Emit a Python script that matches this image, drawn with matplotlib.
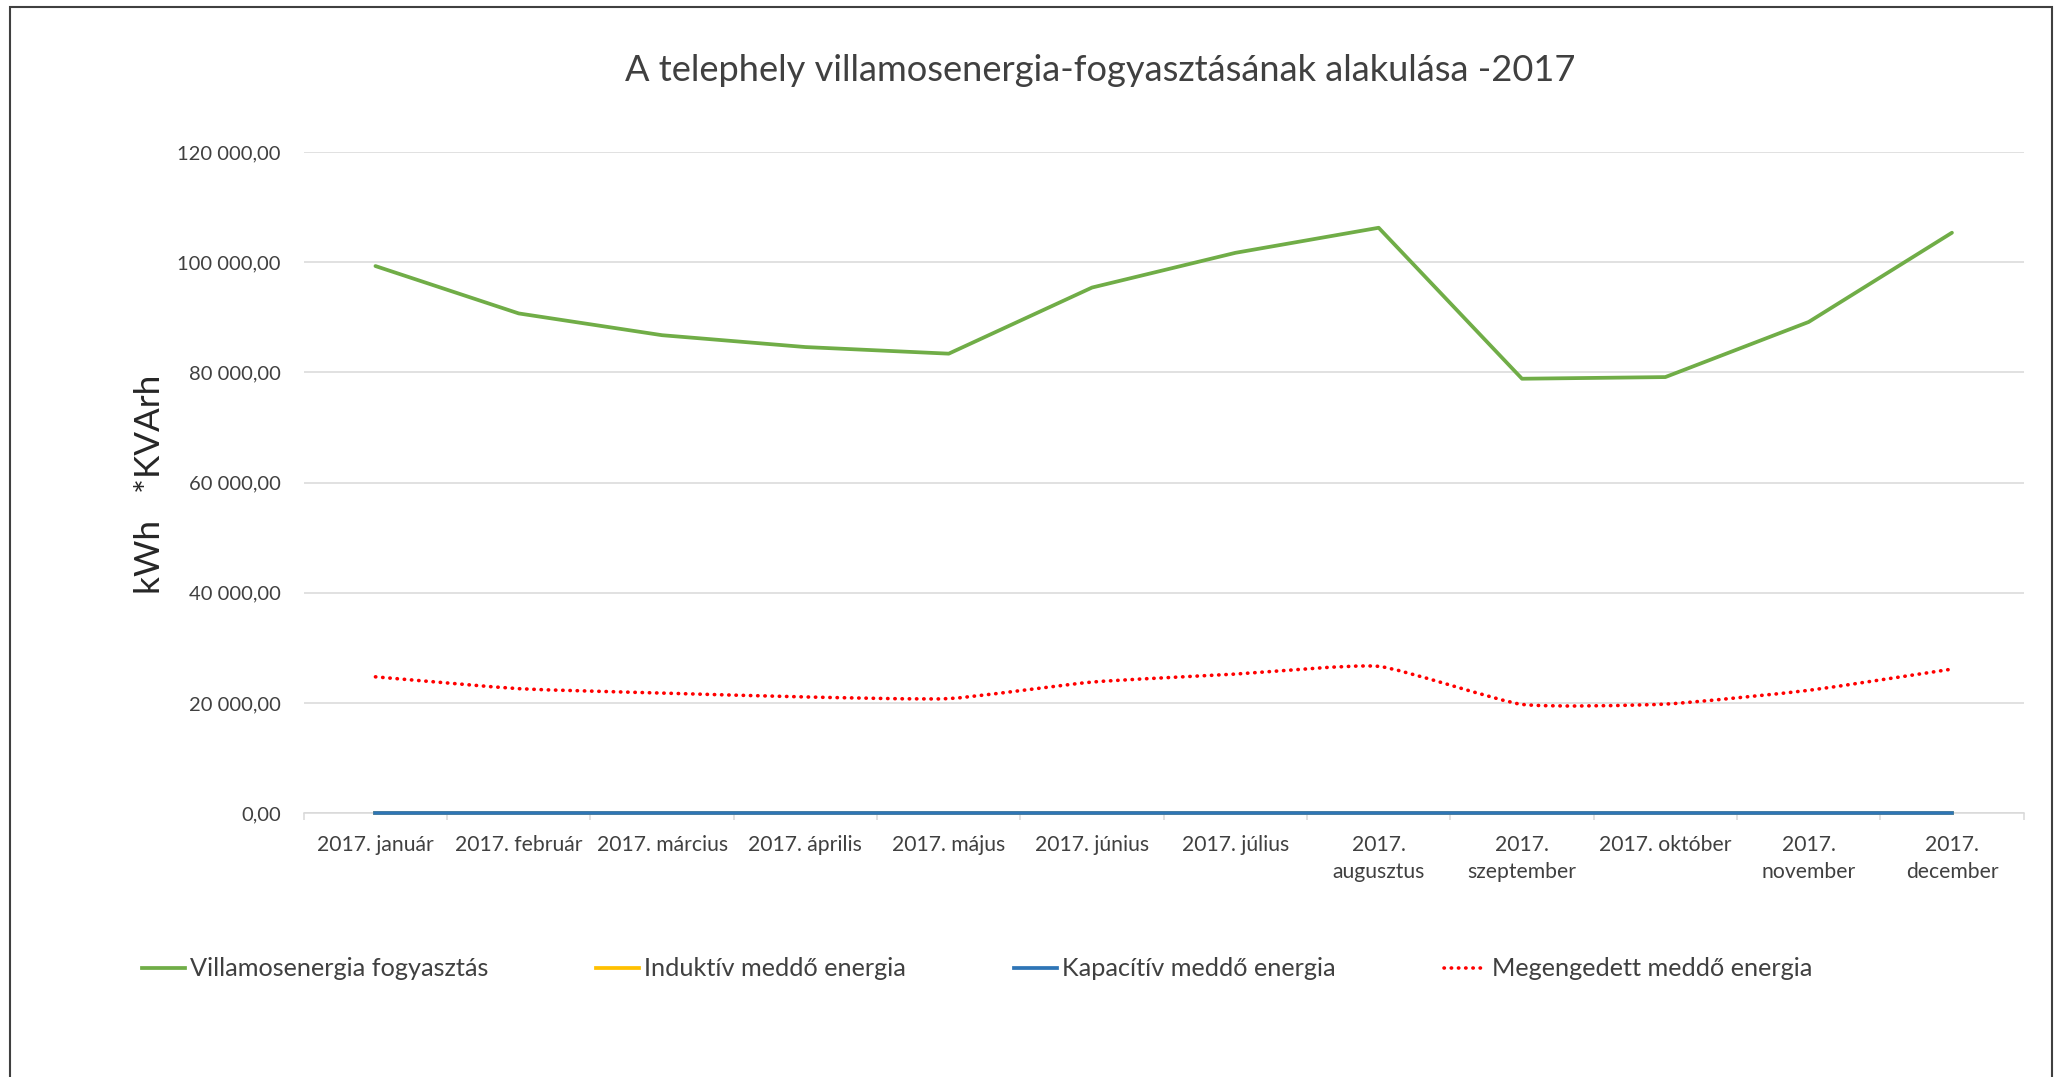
import matplotlib
matplotlib.use("Agg")
import matplotlib.pyplot as plt
from matplotlib.path import Path
from matplotlib.patches import PathPatch, Rectangle
from matplotlib.lines import Line2D
import numpy as np

# ---------------- data ----------------
months = ["2017. január", "2017. február", "2017. március", "2017. április",
          "2017. május", "2017. június", "2017. július", "2017.\naugusztus",
          "2017.\nszeptember", "2017. október", "2017.\nnovember", "2017.\ndecember"]
consumption = [99300, 90700, 86750, 84600, 83400, 95400,
               101700, 106250, 78850, 79150, 89150, 105350]
inductive = [0, 0, 0, 0, 0, 0, 0, 0, 0, 0, 0, 0]
capacitive = [0, 0, 0, 0, 0, 0, 0, 0, 0, 0, 0, 0]
allowed = [24750, 22600, 21800, 21100, 20800, 23800,
           25250, 26650, 19750, 19800, 22300, 26150]
series_names = ["Villamosenergia fogyasztás", "Induktív meddő energia",
                "Kapacítív meddő energia", "Megengedett meddő energia"]
ytick_values = [0, 20000, 40000, 60000, 80000, 100000, 120000]
ytick_labels = ["0,00", "20 000,00", "40 000,00", "60 000,00",
                "80 000,00", "100 000,00", "120 000,00"]
title = "A telephely villamosenergia-fogyasztásának alakulása -2017"
ylabel = "kWh   *KVArh"

# ---------------- style ----------------
FONT = "Lato"
TXT = "#404040"
GRID = "#d9d9d9"
C_GREEN = "#70AD47"
C_YELLOW = "#FFC000"
C_BLUE = "#2E75B6"
C_RED = "#FF0000"

W, H, DPI = 2058, 1077, 100
plt.rcParams["font.family"] = [FONT, "DejaVu Sans"]
fig = plt.figure(figsize=(W / DPI, H / DPI), dpi=DPI)
renderer = fig.canvas.get_renderer()


def fit(s, target_px, base=20):
    t = fig.text(0, 0, s, fontsize=base)
    w = t.get_window_extent(renderer).width
    t.remove()
    return base * target_px / w


fs_title = fit(title, 954)
fs_xt = fit("2017. január", 117)
fs_yt = fit("120 000,00", 103)
fs_leg = fit(series_names[0], 298)
fs_ylab = fit(ylabel, 219)

# axes placement (pixels -> fractions)
L, R, T, B = 303.8, 2023.6, 152.0, 813.2
ax = fig.add_axes([L / W, 1 - B / H, (R - L) / W, (B - T) / H])
ax.set_xlim(-0.5, len(months) - 0.5)
ax.set_ylim(0, 120000)

x = np.arange(len(months))
ax.plot(x, consumption, color=C_GREEN, lw=2.7, solid_capstyle="round",
        solid_joinstyle="round", zorder=3)
ax.plot(x, inductive, color=C_YELLOW, lw=2.7, zorder=3, clip_on=False)
ax.plot(x, capacitive, color=C_BLUE, lw=2.7, zorder=4, clip_on=False)


def smooth_path(xs, ys, k=1.0 / 12.0):
    P = np.column_stack([xs, ys]).astype(float)
    n = len(P)
    verts = [P[0]]
    codes = [Path.MOVETO]
    for i in range(n - 1):
        p0 = P[i - 1] if i > 0 else P[i]
        p1 = P[i]
        p2 = P[i + 1]
        p3 = P[i + 2] if i + 2 < n else P[i + 1]
        c1 = p1 + (p2 - p0) * k
        c2 = p2 - (p3 - p1) * k
        verts += [c1, c2, p2]
        codes += [Path.CURVE4] * 3
    return Path(verts, codes)


red = PathPatch(smooth_path(x, allowed), fill=False, edgecolor=C_RED, lw=2.6,
                linestyle=(0, (0.1, 1.9)), capstyle="round", zorder=5)
ax.add_patch(red)

# axes styling
for s in ["top", "right", "left"]:
    ax.spines[s].set_visible(False)
ax.spines["bottom"].set_color(GRID)
ax.spines["bottom"].set_linewidth(1.1)
ax.spines["bottom"].set_zorder(1)

ax.set_yticks(ytick_values)
ax.set_yticklabels(ytick_labels)
ax.yaxis.grid(True, color=GRID, lw=1.1)
ax.set_axisbelow(True)
ax.tick_params(axis="y", length=0, pad=16.5, labelsize=fs_yt, labelcolor=TXT)

ax.set_xticks(x)
ax.set_xticklabels(months)
ax.set_xticks(np.arange(-0.5, len(months), 1.0), minor=True)
ax.tick_params(axis="x", which="major", length=0, pad=16, labelsize=fs_xt,
               labelcolor=TXT)
ax.tick_params(axis="x", which="minor", length=5, width=1.1, color=GRID)
for lbl in ax.get_xticklabels():
    lbl.set_linespacing(1.4)
    lbl.set_multialignment("center")

# title and y label
fig.text(1100 / W, 1 - 81 / H, title, ha="center", va="baseline",
         fontsize=fs_title, color=TXT)
fig.text(150 / W, 1 - 484 / H, ylabel, rotation=90, ha="center", va="center",
         fontsize=fs_ylab, color="#262626")

# legend
handles = [Line2D([], [], color=C_GREEN, lw=2.7),
           Line2D([], [], color=C_YELLOW, lw=2.7),
           Line2D([], [], color=C_BLUE, lw=2.7),
           Line2D([], [], color=C_RED, lw=2.6, linestyle=(0, (0.1, 1.9)),
                  dash_capstyle="round")]
leg_px = fs_leg * DPI / 72.0
fig.legend(handles, series_names, loc="center left",
           bbox_to_anchor=(142 / W, 1 - 969 / H), ncol=4, frameon=False,
           fontsize=fs_leg, labelcolor=TXT, handlelength=43 / leg_px,
           handletextpad=5 / leg_px, columnspacing=108 / leg_px,
           borderaxespad=0, borderpad=0)

# chart border
fig.patches.append(Rectangle((9.5 / W, -0.05), (2051.7 - 9.5) / W,
                             (1 - 7 / H) + 0.05, transform=fig.transFigure,
                             fill=False, edgecolor="#404040", lw=1.5))

fig.savefig("out.png", dpi=DPI)
